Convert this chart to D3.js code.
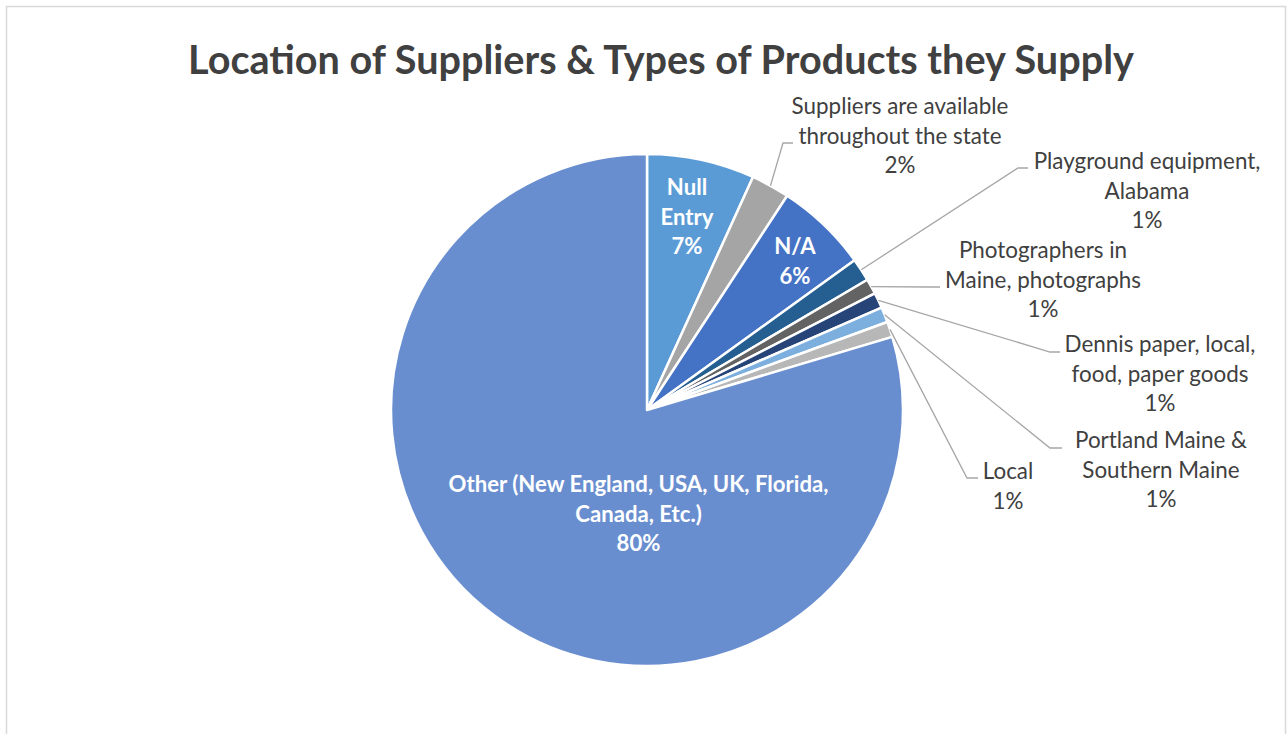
<!DOCTYPE html>
<html><head><meta charset="utf-8">
<script src="https://cdn.jsdelivr.net/npm/d3@7"></script>
<style>body{margin:0;background:#fff;overflow:hidden}</style></head>
<body><svg id="chart" width="1287" height="734"></svg>
<script>
// ---- data ----
const title = "Location of Suppliers & Types of Products they Supply";
const categories = [
  "Null Entry",
  "Suppliers are available throughout the state",
  "N/A",
  "Playground equipment, Alabama",
  "Photographers in Maine, photographs",
  "Dennis paper, local, food, paper goods",
  "Portland Maine & Southern Maine",
  "Local",
  "Other (New England, USA, UK, Florida, Canada, Etc.)"
];
const values = [14, 5, 12, 3, 2, 2, 2, 2, 164];
const labelLines = [
  ["Null", "Entry"],
  ["Suppliers are available", "throughout the state"],
  ["N/A"],
  ["Playground equipment,", "Alabama"],
  ["Photographers in", "Maine, photographs"],
  ["Dennis paper, local,", "food, paper goods"],
  ["Portland Maine &", "Southern Maine"],
  ["Local"],
  ["Other (New England, USA, UK, Florida,", "Canada, Etc.)"]
];
const colors = ["#5B9BD5","#A5A5A5","#4472C4","#255E91","#636363","#264478","#7CAFDD","#B7B7B7","#698ED0"];

// ---- layout ----
const FONT = "Lato, 'Open Sans', sans-serif";
const cx = 647, cy = 410, R = 256, LH = 29.5;
// inside labels: [centerX, firstBaseline]
const insidePos = {0: [687, 195], 2: [795, 254], 8: [638.5, 492]};
// outside labels: [centerX, firstBaseline, elbowX, elbowY, endX]
const outsidePos = {
  1: [900, 114, 783, 143, 793],
  3: [1147, 169, 1018, 168, 1028],
  4: [1043, 258, 930, 287, 940],
  5: [1160, 352, 1050, 352, 1060],
  6: [1161, 448, 1050, 448, 1062],
  7: [1008, 479, 967, 478, 978]
};

const svg = d3.select("#chart");
svg.append("rect").attr("x", 0).attr("y", 0).attr("width", 1287).attr("height", 734).attr("fill", "#fff");
svg.append("rect").attr("x", 6.5).attr("y", 6.5).attr("width", 1279).attr("height", 800)
  .attr("fill", "none").attr("stroke", "#D9D9D9").attr("stroke-width", 1.5);

function fitSize(text, weight, target) {
  const t = svg.append("text").attr("font-family", FONT).attr("font-weight", weight)
    .attr("font-size", 100).text(text);
  const w = t.node().getComputedTextLength();
  t.remove();
  return 100 * target / w;
}
const titleSize = fitSize(title, "bold", 946);
const outSize = fitSize("Suppliers are available", "normal", 217);
const inSize = fitSize("Other (New England, USA, UK, Florida,", "bold", 380);

svg.append("text").attr("x", 661).attr("y", 74).attr("text-anchor", "middle")
  .attr("font-family", FONT).attr("font-weight", "bold").attr("font-size", titleSize)
  .attr("fill", "#404040").text(title);

const total = d3.sum(values);
const pct = v => Math.round(v / total * 100) + "%";

const pie = d3.pie().sort(null).value(d => d)(values);
const arc = d3.arc().innerRadius(0).outerRadius(R);

const g = svg.append("g").attr("transform", `translate(${cx},${cy})`);
g.selectAll("path").data(pie).join("path")
  .attr("d", arc).attr("fill", (d, i) => colors[i])
  .attr("stroke", "#fff").attr("stroke-width", 2.5).attr("stroke-linejoin", "round");

// leader lines + outside labels
pie.forEach((d, i) => {
  const lines = labelLines[i].concat([pct(values[i])]);
  if (insidePos[i]) {
    const [x, y] = insidePos[i];
    const t = svg.append("text").attr("text-anchor", "middle").attr("font-family", FONT)
      .attr("font-weight", "bold").attr("font-size", inSize).attr("fill", "#fff");
    lines.forEach((s, k) => t.append("tspan").attr("x", x).attr("y", y + k * LH).text(s));
  } else {
    const [x, y, ex, ey, endX] = outsidePos[i];
    const a = (d.startAngle + d.endAngle) / 2;
    const sx = cx + Math.sin(a) * R, sy = cy - Math.cos(a) * R;
    svg.append("path").attr("d", `M${sx},${sy}L${ex},${ey}L${endX},${ey}`)
      .attr("fill", "none").attr("stroke", "#A6A6A6").attr("stroke-width", 1.3);
    const t = svg.append("text").attr("text-anchor", "middle").attr("font-family", FONT)
      .attr("font-size", outSize).attr("fill", "#404040");
    lines.forEach((s, k) => t.append("tspan").attr("x", x).attr("y", y + k * LH).text(s));
  }
});
</script>
</body></html>
